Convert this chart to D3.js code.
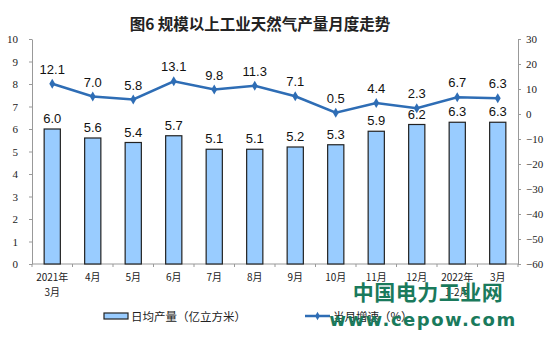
<!DOCTYPE html>
<html>
<head>
<meta charset="utf-8">
<script src="https://cdn.jsdelivr.net/npm/d3@7"></script>
<style>
  body { margin: 0; background: #fff; }
  svg { display: block; }
</style>
</head>
<body>
<div id="chart"></div>
<script>
// data
const months = ["2021年|3月", "4月", "5月", "6月", "7月", "8月", "9月", "10月", "11月", "12月", "2022年|1-2月", "3月"];
const dailyOutput = [6.0, 5.6, 5.4, 5.7, 5.1, 5.1, 5.2, 5.3, 5.9, 6.2, 6.3, 6.3];
const growth = [12.1, 7.0, 5.8, 13.1, 9.8, 11.3, 7.1, 0.5, 4.4, 2.3, 6.7, 6.3];
const leftTicks = [0, 1, 2, 3, 4, 5, 6, 7, 8, 9, 10];
const rightTicks = [-60, -50, -40, -30, -20, -10, 0, 10, 20, 30];

function drawChart() {
    const w = 554, h = 346;
    const left = 32, right = 518, top = 39, bottom = 264;

    const svg = d3.select("#chart").append("svg")
        .attr("width", w)
        .attr("height", h);

    const xScale = d3.scaleBand()
        .domain(months)
        .range([left, right])
        .paddingInner(0.6)
        .paddingOuter(0.3);

    const yLeft = d3.scaleLinear().domain([0, 10]).range([bottom, top]);
    const yRight = d3.scaleLinear().domain([-60, 30]).range([bottom, top]);

    // title
    svg.append("text")
        .attr("x", 260)
        .attr("y", 30)
        .attr("text-anchor", "middle")
        .style("font-family", "'Noto Sans CJK SC', sans-serif")
        .style("font-size", "15.5px")
        .style("font-weight", "bold")
        .attr("fill", "#222")
        .text("图6 规模以上工业天然气产量月度走势");

    // left axis
    const gl = svg.append("g")
        .attr("transform", `translate(${left},0)`)
        .call(d3.axisLeft(yLeft).tickValues(leftTicks).tickSize(3).tickPadding(11).tickSizeOuter(0));
    // right axis
    const gr = svg.append("g")
        .attr("transform", `translate(${right},0)`)
        .call(d3.axisRight(yRight).tickValues(rightTicks).tickSize(3).tickPadding(5).tickSizeOuter(0));

    [gl, gr].forEach(function(g) {
        g.selectAll("path, line").attr("stroke", "#999");
        g.selectAll("text")
            .attr("fill", "#222")
            .style("font-family", "'Liberation Serif', serif")
            .style("font-size", "11px");
    });

    // bottom axis line and ticks between categories
    svg.append("line")
        .attr("x1", left).attr("x2", right)
        .attr("y1", bottom).attr("y2", bottom)
        .attr("stroke", "#999");
    const step = xScale.step();
    svg.append("g").selectAll("line")
        .data(d3.range(months.length + 1))
        .enter()
        .append("line")
        .attr("x1", function(i) { return left + i * step; })
        .attr("x2", function(i) { return left + i * step; })
        .attr("y1", bottom)
        .attr("y2", bottom + 3)
        .attr("stroke", "#999");

    // month labels
    const labels = svg.append("g").selectAll("text")
        .data(months)
        .enter()
        .append("text")
        .attr("text-anchor", "middle")
        .attr("fill", "#222")
        .style("font-family", "'Noto Sans CJK SC', sans-serif")
        .style("font-size", "10px");
    labels.each(function(d) {
        const parts = d.split("|");
        const t = d3.select(this);
        const cx = xScale(d) + xScale.bandwidth() / 2;
        parts.forEach(function(p, k) {
            t.append("tspan")
                .attr("x", cx)
                .attr("y", 281 + k * 15)
                .text(p);
        });
    });

    // bars
    svg.append("g").selectAll("rect")
        .data(dailyOutput)
        .enter()
        .append("rect")
        .attr("x", function(d, i) { return xScale(months[i]); })
        .attr("y", function(d) { return yLeft(d); })
        .attr("width", xScale.bandwidth())
        .attr("height", function(d) { return bottom - yLeft(d); })
        .attr("fill", "#99ccff")
        .attr("stroke", "#222")
        .attr("stroke-width", 1.2);

    // bar labels
    svg.append("g").selectAll("text")
        .data(dailyOutput)
        .enter()
        .append("text")
        .attr("x", function(d, i) { return xScale(months[i]) + xScale.bandwidth() / 2; })
        .attr("y", function(d) { return yLeft(d) - 6; })
        .attr("text-anchor", "middle")
        .attr("fill", "#111")
        .style("font-family", "'Liberation Sans', Arial, sans-serif")
        .style("font-size", "13px")
        .text(function(d) { return d.toFixed(1); });

    // growth line
    const lineColor = "#2e6db5";
    const line = d3.line()
        .x(function(d, i) { return xScale(months[i]) + xScale.bandwidth() / 2; })
        .y(function(d) { return yRight(d); });

    svg.append("path")
        .datum(growth)
        .attr("d", line)
        .attr("fill", "none")
        .attr("stroke", lineColor)
        .attr("stroke-width", 2.5);

    svg.append("g").selectAll("path")
        .data(growth)
        .enter()
        .append("path")
        .attr("d", d3.symbol().type(d3.symbolDiamond).size(30))
        .attr("transform", function(d, i) {
            return `translate(${xScale(months[i]) + xScale.bandwidth() / 2},${yRight(d)})`;
        })
        .attr("fill", lineColor);

    svg.append("g").selectAll("text")
        .data(growth)
        .enter()
        .append("text")
        .attr("x", function(d, i) { return xScale(months[i]) + xScale.bandwidth() / 2; })
        .attr("y", function(d) { return yRight(d) - 10; })
        .attr("text-anchor", "middle")
        .attr("fill", "#111")
        .style("font-family", "'Liberation Sans', Arial, sans-serif")
        .style("font-size", "13px")
        .text(function(d) { return d.toFixed(1); });

    // legend
    const legend = svg.append("g")
        .style("font-family", "'Noto Sans CJK SC', sans-serif")
        .style("font-size", "11.5px");
    legend.append("rect")
        .attr("x", 104).attr("y", 313)
        .attr("width", 24).attr("height", 6)
        .attr("fill", "#99ccff")
        .attr("stroke", "#222")
        .attr("stroke-width", 1.2);
    legend.append("text")
        .attr("x", 131).attr("y", 321)
        .attr("fill", "#222")
        .text("日均产量（亿立方米）");
    legend.append("line")
        .attr("x1", 305).attr("x2", 330)
        .attr("y1", 316).attr("y2", 316)
        .attr("stroke", lineColor)
        .attr("stroke-width", 2.5);
    legend.append("path")
        .attr("d", d3.symbol().type(d3.symbolDiamond).size(20))
        .attr("transform", "translate(317.5,316)")
        .attr("fill", lineColor);
    legend.append("text")
        .attr("x", 333).attr("y", 321)
        .attr("fill", "#222")
        .text("当月增速（%）");

    // watermark
    const wm = svg.append("g")
        .attr("fill", "#1a7a5c")
        .style("font-weight", "bold");
    wm.append("text")
        .attr("x", 428).attr("y", 300)
        .attr("text-anchor", "middle")
        .style("font-family", "'Noto Sans CJK SC', sans-serif")
        .style("font-size", "21px")
        .style("letter-spacing", "0.5px")
        .text("中国电力工业网");
    wm.append("text")
        .attr("x", 423).attr("y", 326)
        .attr("text-anchor", "middle")
        .style("font-family", "'DejaVu Sans', sans-serif")
        .style("font-size", "18px")
        .style("letter-spacing", "1.5px")
        .text("www.cepow.com");
}

drawChart();
</script>
</body>
</html>
